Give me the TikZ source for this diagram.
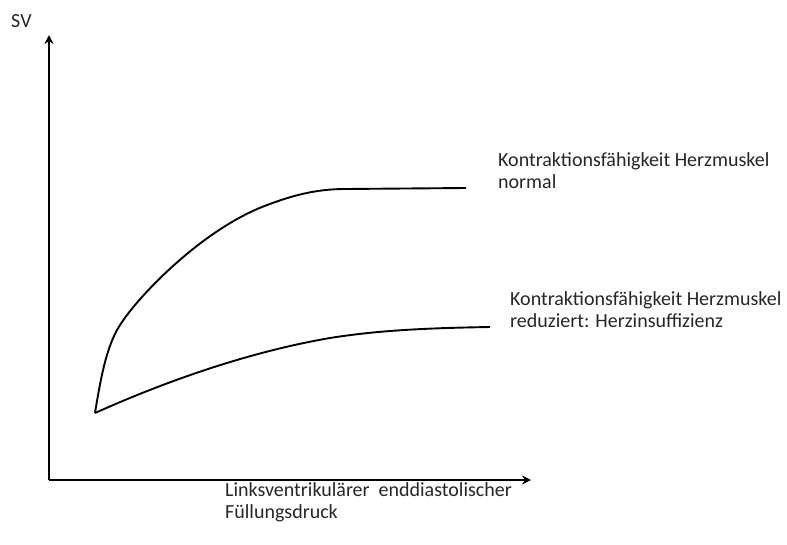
\documentclass[tikz,border=0pt]{standalone}
\usepackage{fontspec}
\setmainfont{Carlito}
\usetikzlibrary{arrows.meta}
\begin{document}
\begin{tikzpicture}[x=1pt,y=-1pt,
  axis/.style={line width=2.2pt,-{Stealth[length=9pt,width=9pt]}},
  curve/.style={line width=1.9pt,line join=round},
  lbl/.style={anchor=base west,inner sep=0pt,font=\fontsize{20}{21.5}\selectfont,align=left,text=black!85}]
\useasboundingbox (0,0) rectangle (787,544);
\coordinate (O) at (49,480);
\coordinate (ytop) at (49,35);
\coordinate (xend) at (531,480);
\draw[axis] (O) -- (ytop);
\draw[axis] (O) -- (xend);
\coordinate (S) at (95,413);
\draw[curve] (S) .. controls (102,370) and (108,342) .. (122,322)
  .. controls (140,295) and (200,232) .. (262,207)
  .. controls (290,196) and (315,189) .. (345,189) -- (466,188);
\draw[curve] (S) .. controls (180,375) and (260,350) .. (330,338)
  .. controls (380,330) and (430,328) .. (490,327);
\node[lbl] (sv) at (11,27) {SV};
\node[lbl] (n1) at (498,188) {Kontraktionsfähigkeit Herzmuskel\\normal};
\node[lbl] (n2) at (510,327) {Kontraktionsfähigkeit Herzmuskel\\reduziert: Herzinsuffizienz};
\node[lbl] (xl) at (225,518) {Linksventrikulärer\ \ enddiastolischer\\Füllungsdruck};
\end{tikzpicture}
\end{document}
